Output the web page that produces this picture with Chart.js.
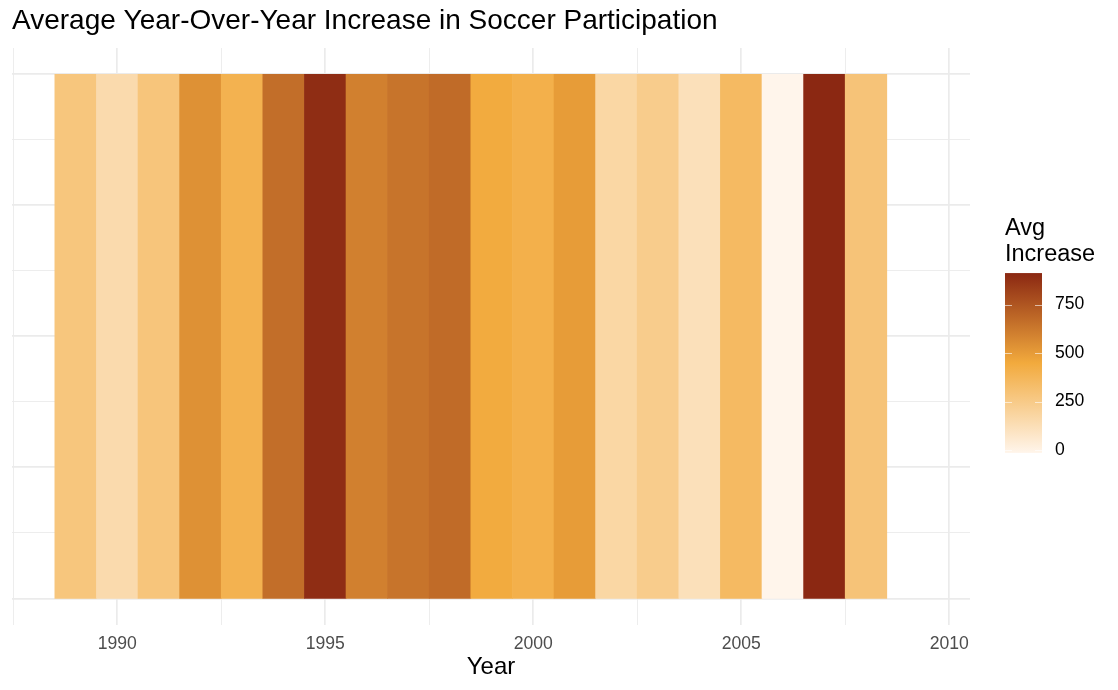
<!DOCTYPE html>
<html>
<head>
<meta charset="utf-8">
<title>Average Year-Over-Year Increase in Soccer Participation</title>
<script src="https://cdn.jsdelivr.net/npm/chart.js@4.4.1/dist/chart.umd.min.js"></script>
<style>
  body { margin: 0; background: #fff; }
  #wrap { width: 1118px; height: 690px; }
</style>
</head>
<body>
<div id="wrap"><canvas id="heat" width="1118" height="690"></canvas></div>
<script>
// Data
const years = [1989, 1990, 1991, 1992, 1993, 1994, 1995, 1996, 1997, 1998,
               1999, 2000, 2001, 2002, 2003, 2004, 2005, 2006, 2007, 2008];
const avgIncrease = [278, 151, 283, 537, 398, 664, 895, 599, 642, 674,
                     443, 410, 499, 173, 239, 115, 351, -15, 912, 291];
const xTickValues = [1987.5, 1990, 1992.5, 1995, 1997.5, 2000, 2002.5, 2005, 2007.5, 2010];
const yTickValues = [0.5, 0.625, 0.75, 0.875, 1, 1.125, 1.25, 1.375, 1.5];
const legendTicks = [0, 250, 500, 750];
const tileSpan = [0.5, 1.5];

// fill scale: low -> mid -> high over the data range
const lowCol = [255, 245, 235];
const midCol = [242, 170, 61];
const highCol = [139, 40, 18];
const vMin = Math.min(...avgIncrease);
const vMax = Math.max(...avgIncrease);

function fillFor(v)
{
    const t = (v - vMin) / (vMax - vMin);
    let a, b, s;
    if (t < 0.5) { a = lowCol; b = midCol; s = t / 0.5; }
    else { a = midCol; b = highCol; s = (t - 0.5) / 0.5; }
    const c = a.map((x, i) => Math.round(x + (b[i] - x) * s));
    return 'rgb(' + c.join(',') + ')';
}

const gridCol = '#EBEBEB';
const isMajorX = v => v % 5 === 0;
const isMajorY = v => Math.abs(v * 4 - Math.round(v * 4)) < 1e-9;

// colourbar drawn next to the panel
const colourbar = {
    id: 'colourbar',
    afterDraw(chart) {
        const ctx = chart.ctx;
        const x0 = 1005, w = 37;
        const pxPer = 48.5 / 250, zeroY = 450;
        const yOf = v => zeroY - v * pxPer;
        const top = yOf(vMax), bot = yOf(vMin);
        ctx.save();
        const g = ctx.createLinearGradient(0, bot, 0, top);
        g.addColorStop(0, 'rgb(' + lowCol.join(',') + ')');
        g.addColorStop(0.5, 'rgb(' + midCol.join(',') + ')');
        g.addColorStop(1, 'rgb(' + highCol.join(',') + ')');
        ctx.fillStyle = g;
        ctx.fillRect(x0, top, w, bot - top);

        ctx.strokeStyle = 'rgba(255,255,255,0.6)';
        ctx.lineWidth = 1;
        ctx.font = '17.6px "Liberation Sans", Arial, sans-serif';
        ctx.fillStyle = '#000';
        ctx.textBaseline = 'middle';
        legendTicks.forEach(v => {
            const y = Math.round(yOf(v)) + 0.5;
            if (v > vMin && v < vMax) {
                ctx.beginPath();
                ctx.moveTo(x0, y); ctx.lineTo(x0 + 7, y);
                ctx.moveTo(x0 + w - 7, y); ctx.lineTo(x0 + w, y);
                ctx.stroke();
            }
            ctx.fillText(String(v), 1055, yOf(v));
        });

        ctx.font = '23.5px "Liberation Sans", Arial, sans-serif';
        ctx.textBaseline = 'alphabetic';
        ctx.fillText('Avg', 1005, 234.5);
        ctx.fillText('Increase', 1005, 260.5);
        ctx.restore();
    }
};

Chart.defaults.font.family = '"Liberation Sans", Arial, sans-serif';

const config = {
    type: 'bar',
    data: {
        datasets: [{
            data: years.map(y => ({ x: y, y: tileSpan })),
            backgroundColor: avgIncrease.map(fillFor),
            borderWidth: 0,
            barPercentage: 1,
            categoryPercentage: 1
        }]
    },
    options: {
        responsive: false,
        animation: false,
        layout: { padding: { left: 12, right: 148, top: 0, bottom: 8 } },
        plugins: {
            legend: { display: false },
            tooltip: { enabled: false },
            title: {
                display: true,
                text: 'Average Year-Over-Year Increase in Soccer Participation',
                align: 'start',
                color: '#000',
                font: { size: 28, weight: 'normal' },
                padding: { top: 4.2, bottom: 10.2 }
            }
        },
        scales: {
            x: {
                type: 'linear',
                min: 1987.47,
                max: 2010.5,
                offset: false,
                afterBuildTicks: s => { s.ticks = xTickValues.map(v => ({ value: v })); },
                grid: {
                    offset: false,
                    drawTicks: false,
                    color: gridCol,
                    lineWidth: c => isMajorX(c.tick.value) ? 1.7 : 0.9
                },
                border: { display: false },
                ticks: {
                    autoSkip: false,
                    maxRotation: 0,
                    padding: 9,
                    color: '#4D4D4D',
                    font: { size: 17.6 },
                    callback: v => isMajorX(v) ? String(v) : ''
                },
                title: {
                    display: true,
                    text: 'Year',
                    color: '#000',
                    font: { size: 24 },
                    padding: { top: -10.5, bottom: 0 }
                }
            },
            y: {
                min: 0.45,
                max: 1.55,
                afterBuildTicks: s => { s.ticks = yTickValues.map(v => ({ value: v })); },
                grid: {
                    drawTicks: false,
                    color: gridCol,
                    lineWidth: c => isMajorY(c.tick.value) ? 1.7 : 0.9
                },
                border: { display: false },
                ticks: { display: false }
            }
        }
    },
    plugins: [colourbar]
};

const heatChart = new Chart(document.getElementById('heat'), config);
</script>
</body>
</html>
